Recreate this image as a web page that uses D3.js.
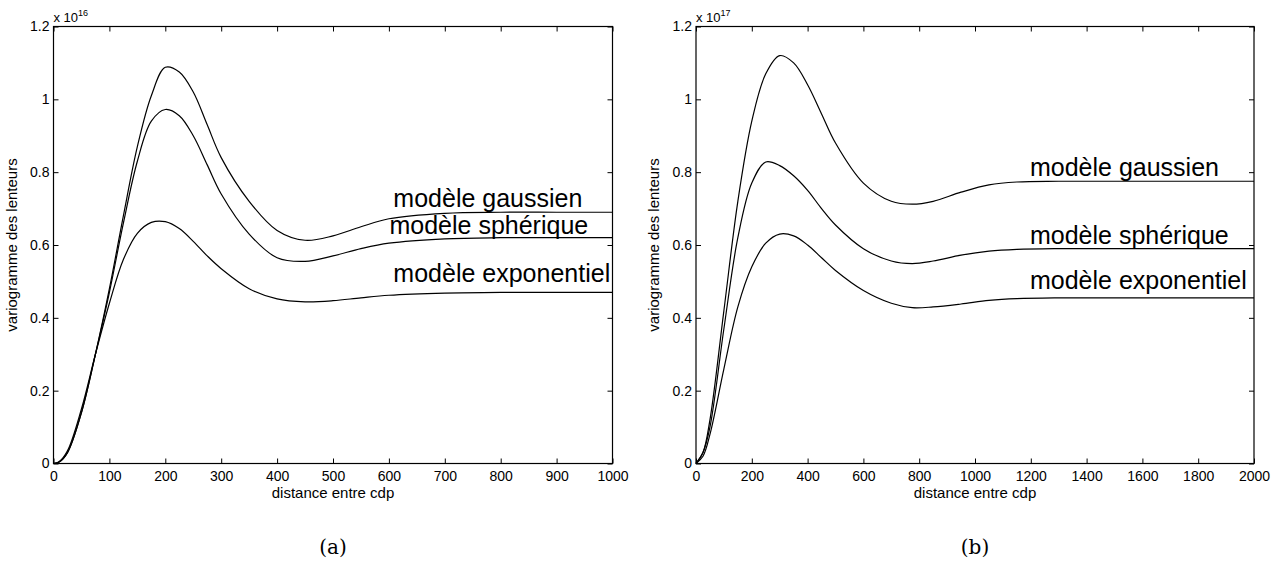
<!DOCTYPE html>
<html><head><meta charset="utf-8">
<script src="https://cdn.jsdelivr.net/npm/d3@7"></script>
<style>
body{margin:0;background:#fff;}
svg{display:block;}
.tick text{font-family:"Liberation Sans",Arial,sans-serif;font-size:14px;fill:#000;}
.domain{display:none;}
.tick line{stroke:#000;stroke-width:1;}
</style></head>
<body><svg id="c" width="1282" height="562"></svg>
<script>
// ---- data ----
const xA = [0, 10, 25, 50, 75, 100, 125, 150, 175, 200, 225, 250, 275, 300, 350, 400, 450, 500, 550, 600, 700, 800, 900, 1000];
const gaussA = [0, 0.004, 0.03, 0.14, 0.30, 0.48, 0.68, 0.87, 1.01, 1.088, 1.075, 1.02, 0.93, 0.84, 0.72, 0.64, 0.613, 0.625, 0.65, 0.672, 0.687, 0.69, 0.69, 0.69];
const spherA = [0, 0.004, 0.03, 0.14, 0.30, 0.47, 0.66, 0.83, 0.94, 0.972, 0.955, 0.90, 0.82, 0.74, 0.63, 0.565, 0.555, 0.57, 0.59, 0.605, 0.617, 0.62, 0.62, 0.62];
const expoA = [0, 0.005, 0.035, 0.15, 0.30, 0.44, 0.56, 0.632, 0.662, 0.664, 0.645, 0.61, 0.57, 0.535, 0.48, 0.452, 0.444, 0.447, 0.455, 0.462, 0.468, 0.47, 0.47, 0.47];

const xB = [0, 25, 50, 100, 150, 200, 250, 300, 350, 400, 450, 500, 600, 700, 775, 850, 950, 1050, 1150, 1300, 1600, 2000];
const gaussB = [0, 0.03, 0.12, 0.42, 0.72, 0.94, 1.07, 1.12, 1.10, 1.04, 0.96, 0.88, 0.77, 0.72, 0.712, 0.72, 0.745, 0.765, 0.773, 0.775, 0.775, 0.775];
const spherB = [0, 0.03, 0.10, 0.37, 0.62, 0.77, 0.828, 0.818, 0.79, 0.75, 0.70, 0.655, 0.59, 0.556, 0.549, 0.556, 0.572, 0.583, 0.588, 0.59, 0.59, 0.59];
const expoB = [0, 0.02, 0.08, 0.26, 0.43, 0.54, 0.605, 0.63, 0.625, 0.60, 0.565, 0.53, 0.475, 0.44, 0.428, 0.43, 0.438, 0.448, 0.453, 0.455, 0.455, 0.455];

const yTicks = [0, 0.2, 0.4, 0.6, 0.8, 1, 1.2];
const xTicksA = [0, 100, 200, 300, 400, 500, 600, 700, 800, 900, 1000];
const xTicksB = [0, 200, 400, 600, 800, 1000, 1200, 1400, 1600, 1800, 2000];
const labels = ["modèle gaussien", "modèle sphérique", "modèle exponentiel"];
const exponents = ["16", "17"];
const panelNames = ["(a)", "(b)"];

// ---- drawing ----
const svg = d3.select("#c");
const plotTop = 26.5, plotBottom = 463.5;

function panel(left, right, xMax, xs, series, xTicks, expo, name, lab) {
  const g = svg.append("g");
  const x = d3.scaleLinear().domain([0, xMax]).range([left, right]);
  const y = d3.scaleLinear().domain([0, 1.2]).range([plotBottom, plotTop]);
  const fmt = d => d3.format("~g")(d);

  g.append("g").attr("transform", `translate(0,${plotBottom})`)
    .call(d3.axisBottom(x).tickValues(xTicks).tickSize(-5).tickPadding(8).tickFormat(fmt));
  g.append("g").attr("transform", `translate(0,${plotTop})`)
    .call(d3.axisTop(x).tickValues(xTicks).tickSize(-5).tickFormat(""));
  g.append("g").attr("transform", `translate(${left},0)`)
    .call(d3.axisLeft(y).tickValues(yTicks).tickSize(-5).tickPadding(4).tickFormat(fmt));
  g.append("g").attr("transform", `translate(${right},0)`)
    .call(d3.axisRight(y).tickValues(yTicks).tickSize(-5).tickFormat(""));

  g.append("rect").attr("x", left).attr("y", plotTop).attr("width", right - left).attr("height", plotBottom - plotTop)
    .attr("fill", "none").attr("stroke", "#000").attr("stroke-width", 1.2);

  const line = d3.line().x((d, i) => x(xs[i])).y(d => y(d)).curve(d3.curveCatmullRom.alpha(0.5));
  series.forEach((s, k) => {
    g.append("path").attr("d", line(s)).attr("fill", "none").attr("stroke", "#000").attr("stroke-width", 1.2);
    const last = s[s.length - 1];
    g.append("text").attr("x", x(lab.x[k])).attr("y", y(last) - lab.dy[k])
      .attr("font-family", "'Liberation Sans',Arial,sans-serif").attr("font-size", 25)
      .text(labels[k]);
  });

  const e = g.append("text").attr("x", left).attr("y", 22)
    .attr("font-family", "'Liberation Sans',Arial,sans-serif").attr("font-size", 13);
  e.append("tspan").text("x 10");
  e.append("tspan").attr("font-size", 9).attr("dy", -6).text(expo);

  g.append("text").attr("x", (left + right) / 2).attr("y", 498).attr("text-anchor", "middle")
    .attr("font-family", "'Liberation Sans',Arial,sans-serif").attr("font-size", 15)
    .text("distance entre cdp");
  g.append("text").attr("transform", `translate(${left - 37},${(plotTop + plotBottom) / 2}) rotate(-90)`)
    .attr("text-anchor", "middle").attr("font-family", "'Liberation Sans',Arial,sans-serif").attr("font-size", 15)
    .text("variogramme des lenteurs");

  g.append("text").attr("x", (left + right) / 2).attr("y", 554).attr("text-anchor", "middle")
    .attr("font-family", "'DejaVu Serif','Liberation Serif',serif").attr("font-size", 20)
    .text(name);
}

panel(53.5, 612.5, 1000, xA, [gaussA, spherA, expoA], xTicksA, exponents[0], panelNames[0],
  {x: [608, 601, 608], dy: [5, 4, 10]});
panel(696, 1254, 2000, xB, [gaussB, spherB, expoB], xTicksB, exponents[1], panelNames[1],
  {x: [1197, 1197, 1197], dy: [5, 5, 9]});
</script></body></html>
